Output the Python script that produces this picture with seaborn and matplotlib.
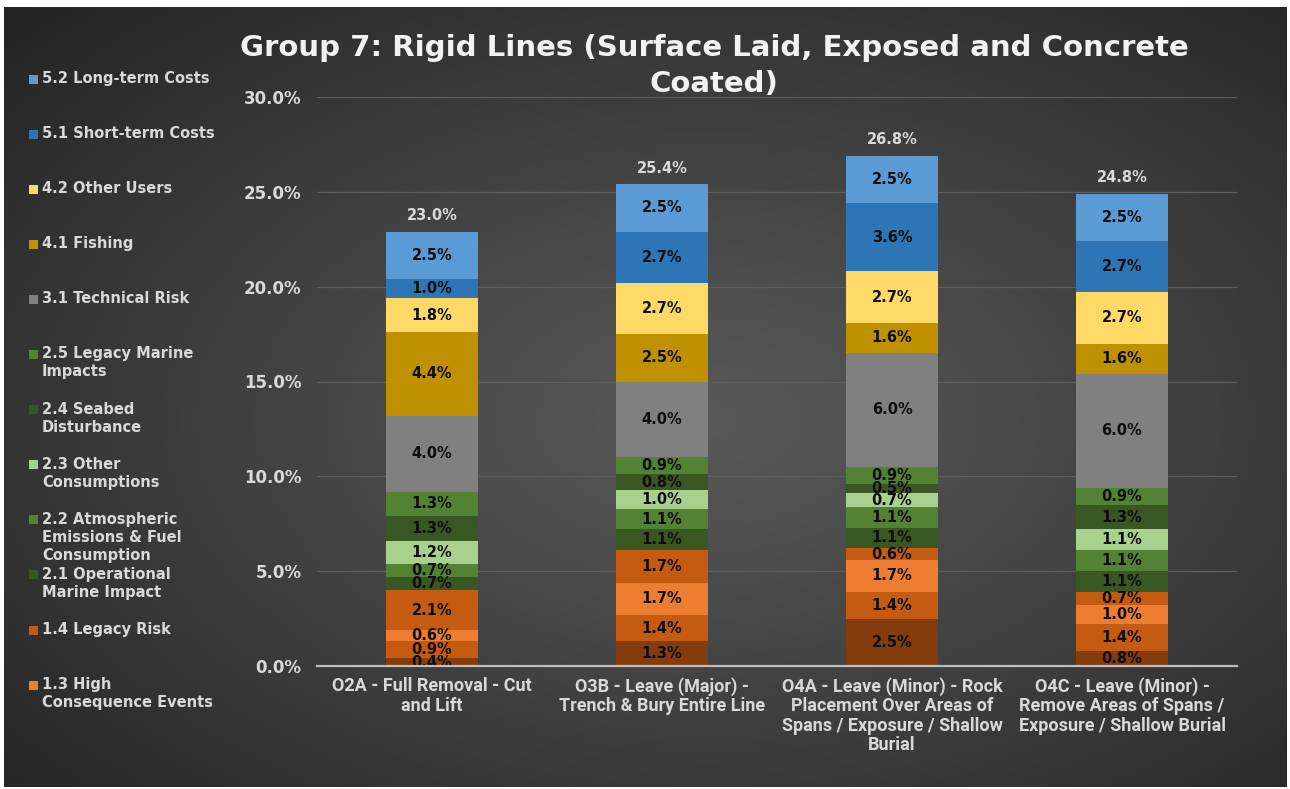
import numpy as np
import pandas as pd
import matplotlib
matplotlib.use("Agg")
import matplotlib.pyplot as plt
import seaborn as sns
from matplotlib.patches import Rectangle

# ---- data -------------------------------------------------------------
options = [
    "O2A - Full Removal - Cut\nand Lift",
    "O3B - Leave (Major) -\nTrench & Bury Entire Line",
    "O4A - Leave (Minor) - Rock\nPlacement Over Areas of\nSpans / Exposure / Shallow\nBurial",
    "O4C - Leave (Minor) -\nRemove Areas of Spans /\nExposure / Shallow Burial",
]

# criteria listed from top of the stack to the bottom
criteria = [
    "5.2 Long-term Costs",
    "5.1 Short-term Costs",
    "4.2 Other Users",
    "4.1 Fishing",
    "3.1 Technical Risk",
    "2.5 Legacy Marine\nImpacts",
    "2.4 Seabed\nDisturbance",
    "2.3 Other\nConsumptions",
    "2.2 Atmospheric\nEmissions & Fuel\nConsumption",
    "2.1 Operational\nMarine Impact",
    "1.4 Legacy Risk",
    "1.3 High\nConsequence Events",
    "1.2",
    "1.1",
]

colors = [
    "#5B9BD5", "#2E75B6", "#FFD966", "#BF9000", "#808080",
    "#548235", "#385723", "#A9D18E", "#548235", "#385723",
    "#C55A11", "#ED7D31", "#C55A11", "#843C0C",
]

# weighted scores (%) per option: O2A, O3B, O4A, O4C
long_term_costs     = [2.5, 2.5, 2.5, 2.5]
short_term_costs    = [1.0, 2.7, 3.6, 2.7]
other_users         = [1.8, 2.7, 2.7, 2.7]
fishing             = [4.4, 2.5, 1.6, 1.6]
technical_risk      = [4.0, 4.0, 6.0, 6.0]
legacy_marine       = [1.3, 0.9, 0.9, 0.9]
seabed_disturbance  = [1.3, 0.8, 0.5, 1.3]
other_consumptions  = [1.2, 1.0, 0.7, 1.1]
atmospheric         = [0.7, 1.1, 1.1, 1.1]
operational_marine  = [0.7, 1.1, 1.1, 1.1]
legacy_risk         = [2.1, 1.7, 0.6, 0.7]
high_consequence    = [0.6, 1.7, 1.7, 1.0]
safety_1_2          = [0.9, 1.4, 1.4, 1.4]
safety_1_1          = [0.4, 1.3, 2.5, 0.8]

totals = [23.0, 25.4, 26.8, 24.8]

series = [
    long_term_costs, short_term_costs, other_users, fishing, technical_risk,
    legacy_marine, seabed_disturbance, other_consumptions, atmospheric,
    operational_marine, legacy_risk, high_consequence, safety_1_2, safety_1_1,
]

df = pd.DataFrame(
    [(i, name, vals[i]) for name, vals in zip(criteria, series) for i in range(len(options))],
    columns=["pos", "criterion", "value"],
)
palette = dict(zip(criteria, colors))

# ---- style ------------------------------------------------------------
sns.set_theme(style="white")
plt.rcParams["font.family"] = ["DejaVu Sans"]
plt.rcParams["font.weight"] = "bold"

txt_col = "#D9D9D9"

fig = plt.figure(figsize=(12.9, 7.89), dpi=100, facecolor="white")

# dark radial-gradient panel
bg = fig.add_axes([4 / 1290, 2 / 789, 1283 / 1290, 780 / 789], zorder=0)
yy, xx = np.mgrid[0:1:400j, 0:1:650j]
r = np.sqrt(((xx - 0.55) / 0.75) ** 2 + ((yy - 0.47) / 0.75) ** 2)
shade = np.clip(0x58 - (0x58 - 0x24) * r ** 1.1, 0x22, 0x60) / 255.0
bg.imshow(np.dstack([shade] * 3), aspect="auto", extent=[0, 1, 0, 1], origin="lower")
bg.set_axis_off()

ax = fig.add_axes([317 / 1290, 1 - 666 / 789, 920 / 1290, (666 - 97) / 789], zorder=1)
ax.set_facecolor("none")

sns.histplot(
    data=df, x="pos", hue="criterion", weights="value",
    hue_order=criteria, palette=palette, multiple="stack",
    discrete=True, shrink=0.4, alpha=1, linewidth=0,
    legend=False, ax=ax, zorder=3,
)

for cont in ax.containers:
    ax.bar_label(cont, fmt=lambda v: f"{v:.1f}%", label_type="center",
                 fontsize=10.5, fontweight="bold", color="#0D0D0D", zorder=4)

stack_tops = df.groupby("pos")["value"].sum()
for i, t in enumerate(totals):
    ax.text(i, stack_tops[i] + 0.45, f"{t:.1f}%", ha="center", va="bottom",
            fontsize=10.5, fontweight="bold", color=txt_col)

ax.set_xlim(-0.5, 3.5)
ax.set_ylim(0, 30)
ax.set_yticks(np.arange(0, 31, 5))
ax.set_yticklabels([f"{v:.1f}%" for v in np.arange(0, 31, 5)])
ax.set_xticks(range(len(options)))
ax.set_xticklabels(options, family=["Roboto", "DejaVu Sans"],
                   fontsize=13, fontweight="bold", color=txt_col, linespacing=1.1)
ax.tick_params(axis="x", length=0, pad=8)
ax.tick_params(axis="y", length=0, pad=11, labelsize=12, labelcolor=txt_col)
ax.set_xlabel("")
ax.set_ylabel("")
ax.grid(axis="y", color="#5E5E5E", linewidth=0.9, zorder=0)
ax.grid(axis="x", visible=False)
for s in ["left", "right", "top"]:
    ax.spines[s].set_visible(False)
ax.spines["bottom"].set_color("#BFBFBF")
ax.spines["bottom"].set_linewidth(1.6)
ax.spines["bottom"].set_zorder(5)

# title
fig.text(714 / 1290, 1 - 66 / 789,
         "Group 7: Rigid Lines (Surface Laid, Exposed and Concrete\nCoated)",
         ha="center", va="center", family=["DejaVu Sans"],
         fontsize=21, fontweight="bold", color="#F2F2F2", linespacing=1.35)

# legend column on the left
y0, step = 79, 55.1
for k, (name, col) in enumerate(zip(criteria[:12], colors[:12])):
    yc = y0 + k * step
    fig.patches.append(Rectangle((29 / 1290, 1 - (yc + 4.5) / 789), 9 / 1290, 9 / 789,
                                 transform=fig.transFigure, facecolor=col,
                                 edgecolor="none", zorder=3))
    fig.text(42 / 1290, 1 - (yc - 8) / 789, name, ha="left", va="top",
             fontsize=10.5, fontweight="bold", color=txt_col, linespacing=1.25)

fig.savefig("out.png", dpi=100, facecolor=fig.get_facecolor())
